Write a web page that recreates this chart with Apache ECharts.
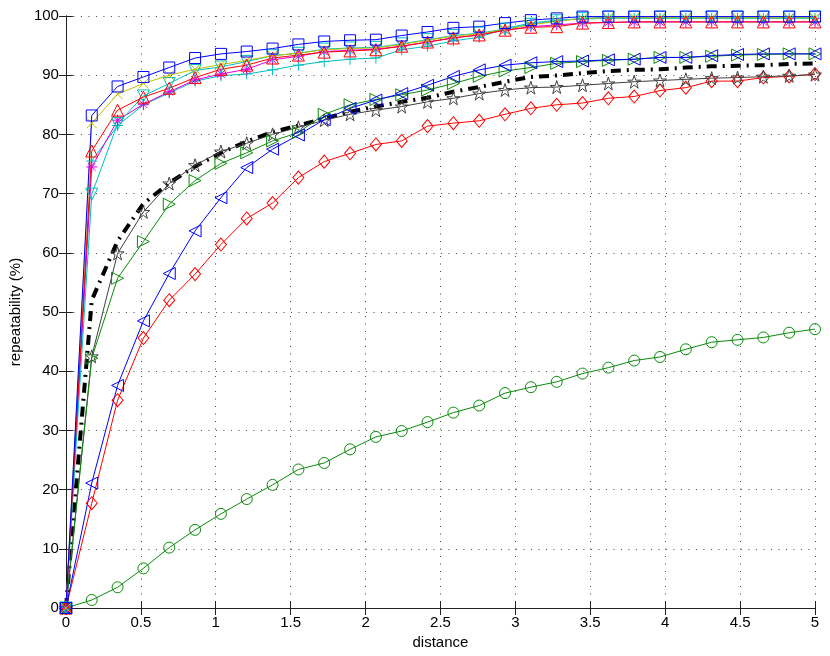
<!DOCTYPE html>
<html><head><meta charset="utf-8">
<script src="https://cdn.jsdelivr.net/npm/echarts/dist/echarts.min.js"></script>
<style>html,body{margin:0;padding:0;background:#fff}#c{width:830px;height:656px}</style>
</head><body><div id="c"></div><script>
const distance = [0, 0.1724, 0.3448, 0.5172, 0.6897, 0.8621, 1.0345, 1.2069, 1.3793, 1.5517, 1.7241, 1.8966, 2.0690, 2.2414, 2.4138, 2.5862, 2.7586, 2.9310, 3.1034, 3.2759, 3.4483, 3.6207, 3.7931, 3.9655, 4.1379, 4.3103, 4.4828, 4.6552, 4.8276, 5.0];

const greenCircle = [0, 1.35, 3.5, 6.7, 10.2, 13.2, 15.9, 18.4, 20.8, 23.4, 24.5, 26.8, 28.9, 29.9, 31.4, 33.0, 34.2, 36.3, 37.3, 38.2, 39.6, 40.6, 41.8, 42.4, 43.7, 44.9, 45.3, 45.7, 46.5, 47.1];
const redDiamond = [0, 17.7, 35.1, 45.6, 52.0, 56.4, 61.4, 65.8, 68.4, 72.7, 75.4, 76.8, 78.3, 78.9, 81.4, 81.9, 82.3, 83.4, 84.4, 85.0, 85.3, 86.1, 86.4, 87.4, 87.9, 89.0, 89.0, 89.6, 89.8, 90.2];
const blackDashDot = [0, 52.0, 62.0, 68.3, 71.8, 74.6, 76.9, 78.8, 80.4, 81.5, 82.7, 83.8, 84.7, 85.5, 86.2, 87.2, 88.0, 88.9, 89.7, 89.95, 90.35, 90.7, 90.9, 91.0, 91.3, 91.5, 91.6, 91.7, 91.9, 92.0];
const grayStar = [0, 42.5, 59.9, 66.9, 71.7, 74.8, 77.1, 78.5, 80.0, 81.2, 82.4, 83.4, 84.1, 84.7, 85.5, 86.1, 86.9, 87.5, 87.9, 88.0, 88.3, 88.6, 88.9, 89.1, 89.3, 89.5, 89.6, 89.75, 89.9, 90.1];
const blueLeftTri = [0, 21.1, 37.6, 48.5, 56.5, 63.7, 69.3, 74.4, 77.5, 79.9, 82.5, 84.4, 85.8, 86.9, 88.3, 89.8, 90.9, 91.7, 92.1, 92.3, 92.4, 92.6, 92.7, 93.0, 93.0, 93.3, 93.5, 93.6, 93.6, 93.6];
const greenRightTri = [0, 42.2, 55.7, 61.9, 68.2, 72.2, 75.1, 76.9, 78.9, 80.3, 83.4, 85.0, 85.9, 86.7, 87.5, 88.6, 89.8, 90.7, 91.3, 92.0, 92.3, 92.5, 92.7, 93.0, 93.0, 93.2, 93.4, 93.5, 93.6, 93.6];
const cyanPlus = [0, 75.5, 81.5, 85.0, 87.0, 89.0, 89.9, 90.2, 90.9, 91.7, 92.3, 92.7, 92.9, 94.3, 94.9, 95.8, 96.4, 97.9, 98.8, 99.3, 99.5, 99.6, 99.6, 99.6, 99.6, 99.6, 99.6, 99.6, 99.6, 99.6];
const magentaStar = [0, 74.5, 82.4, 85.1, 87.2, 89.2, 90.2, 91.0, 92.6, 93.2, 94.0, 94.2, 94.4, 94.9, 95.6, 96.3, 96.8, 97.6, 98.2, 98.5, 98.8, 98.9, 99.0, 99.0, 99.0, 99.0, 99.0, 99.0, 99.0, 99.0];
const cyanDownTri = [0, 69.9, 81.8, 86.5, 88.6, 90.8, 91.4, 92.3, 93.3, 93.7, 94.4, 94.6, 94.7, 95.3, 96.0, 96.7, 97.1, 97.8, 98.6, 99.2, 99.6, 99.8, 99.8, 99.8, 99.8, 99.8, 99.8, 99.8, 99.8, 99.8];
const redUpTri = [0, 77.2, 84.1, 86.3, 87.8, 89.6, 91.0, 91.7, 92.9, 93.4, 93.9, 94.1, 94.3, 94.9, 95.6, 96.3, 96.8, 97.6, 98.1, 98.2, 98.8, 98.9, 99.0, 99.0, 99.0, 99.0, 99.0, 99.0, 99.0, 99.0];
const yellowX = [0, 81.9, 86.8, 88.6, 90.0, 91.0, 91.8, 92.5, 93.3, 93.7, 94.3, 94.5, 94.6, 95.2, 95.9, 96.6, 97.0, 97.7, 98.5, 99.1, 99.6, 99.7, 99.7, 99.7, 99.7, 99.7, 99.7, 99.7, 99.7, 99.7];
const blueSquare = [0, 83.2, 88.1, 89.7, 91.3, 92.9, 93.6, 94.0, 94.5, 95.2, 95.7, 95.9, 96.0, 96.7, 97.3, 98.0, 98.2, 98.8, 99.3, 99.6, 99.9, 99.9, 99.9, 99.9, 99.9, 99.9, 99.9, 99.9, 99.9, 99.9];

const xTickInterval = 0.5;
const yTickInterval = 10;

const FONT = "'Liberation Sans', Arial, Helvetica, sans-serif";
const SYM = {
  cross: 'path://M0,0L10,10M10,0L0,10',
  plus: 'path://M5,0L5,10M0,5L10,5',
  aster: 'path://M5,0L5,10M0,5L10,5M1.5,1.5L8.5,8.5M8.5,1.5L1.5,8.5',
  down: 'path://M0,0L10,0L5,10Z',
  up: 'path://M5,0L10,10L0,10Z',
  right: 'path://M0,0L10,5L0,10Z',
  left: 'path://M10,0L0,5L10,10Z',
  star: 'path://M5,0L6.123,3.455L9.755,3.455L6.816,5.59L7.939,9.045L5,6.91L2.061,9.045L3.184,5.59L0.245,3.455L3.877,3.455Z',
  diamond: 'path://M5,0L10,5L5,10L0,5Z',
  square: 'path://M0,0L10,0L10,10L0,10Z'
};

function mk(values, color, symbol, size, extra) {
  const s = {
    type: 'line',
    data: distance.map((x, i) => [x, values[i]]),
    symbol: symbol,
    symbolSize: size,
    showSymbol: symbol !== 'none',
    clip: false,
    silent: true,
    animation: false,
    lineStyle: { color: color, width: 1 },
    itemStyle: { color: 'rgba(0,0,0,0)', borderColor: color, borderWidth: 1 }
  };
  return Object.assign(s, extra || {});
}

const series = [
  mk(greenCircle, '#0c8a0c', 'circle', 11),
  mk(redDiamond, '#ff0000', SYM.diamond, [11, 13]),
  mk(blackDashDot, '#000000', 'none', 0, { lineStyle: { color: '#000', width: 4, type: [10, 6, 2, 6] } }),
  mk(grayStar, '#404040', SYM.star, 13),
  mk(greenRightTri, '#0c8a0c', SYM.right, 12),
  mk(blueLeftTri, '#0000ff', SYM.left, 12),
  mk(cyanPlus, '#00bfbf', SYM.plus, 11),
  mk(magentaStar, '#e000e0', SYM.aster, 11),
  mk(cyanDownTri, '#00bfbf', SYM.down, 12),
  mk(yellowX, '#bfbf00', SYM.cross, 10),
  mk(redUpTri, '#ff0000', SYM.up, 12),
  mk(blueSquare, '#0000ff', SYM.square, 11)
];

const axisLine = { show: true, lineStyle: { color: '#222', width: 1 } };
const tick = { show: true, inside: true, length: 7, lineStyle: { color: '#222', width: 1 } };
const gridLine = { show: true, lineStyle: { color: '#444', width: 1, type: [1, 6.5] } };
const labelStyle = { color: '#000', fontSize: 15, fontFamily: FONT };

const chart = echarts.init(document.getElementById('c'), null, { renderer: 'canvas' });
chart.setOption({
  animation: false,
  backgroundColor: '#fff',
  grid: { left: 63, right: 15, top: 16, bottom: 48, containLabel: false },
  xAxis: [
    { type: 'value', min: 0, max: 5, interval: xTickInterval, position: 'bottom',
      name: 'distance', nameLocation: 'middle', nameGap: 24,
      nameTextStyle: { color: '#000', fontSize: 15, fontFamily: FONT },
      axisLine: axisLine, axisTick: tick, splitLine: gridLine,
      axisLabel: Object.assign({ margin: 7 }, labelStyle) },
    { type: 'value', min: 0, max: 5, interval: xTickInterval, position: 'top',
      axisLine: axisLine, axisTick: tick, splitLine: { show: false }, axisLabel: { show: false } }
  ],
  yAxis: [
    { type: 'value', min: 0, max: 100, interval: yTickInterval, position: 'left',
      name: 'repeatability (%)', nameLocation: 'middle', nameGap: 38, nameRotate: 90,
      nameTextStyle: { color: '#000', fontSize: 15, fontFamily: FONT },
      axisLine: axisLine, axisTick: tick, splitLine: gridLine,
      axisLabel: Object.assign({ margin: 7 }, labelStyle) },
    { type: 'value', min: 0, max: 100, interval: yTickInterval, position: 'right',
      axisLine: axisLine, axisTick: tick, splitLine: { show: false }, axisLabel: { show: false } }
  ],
  series: series
});
</script></body></html>
